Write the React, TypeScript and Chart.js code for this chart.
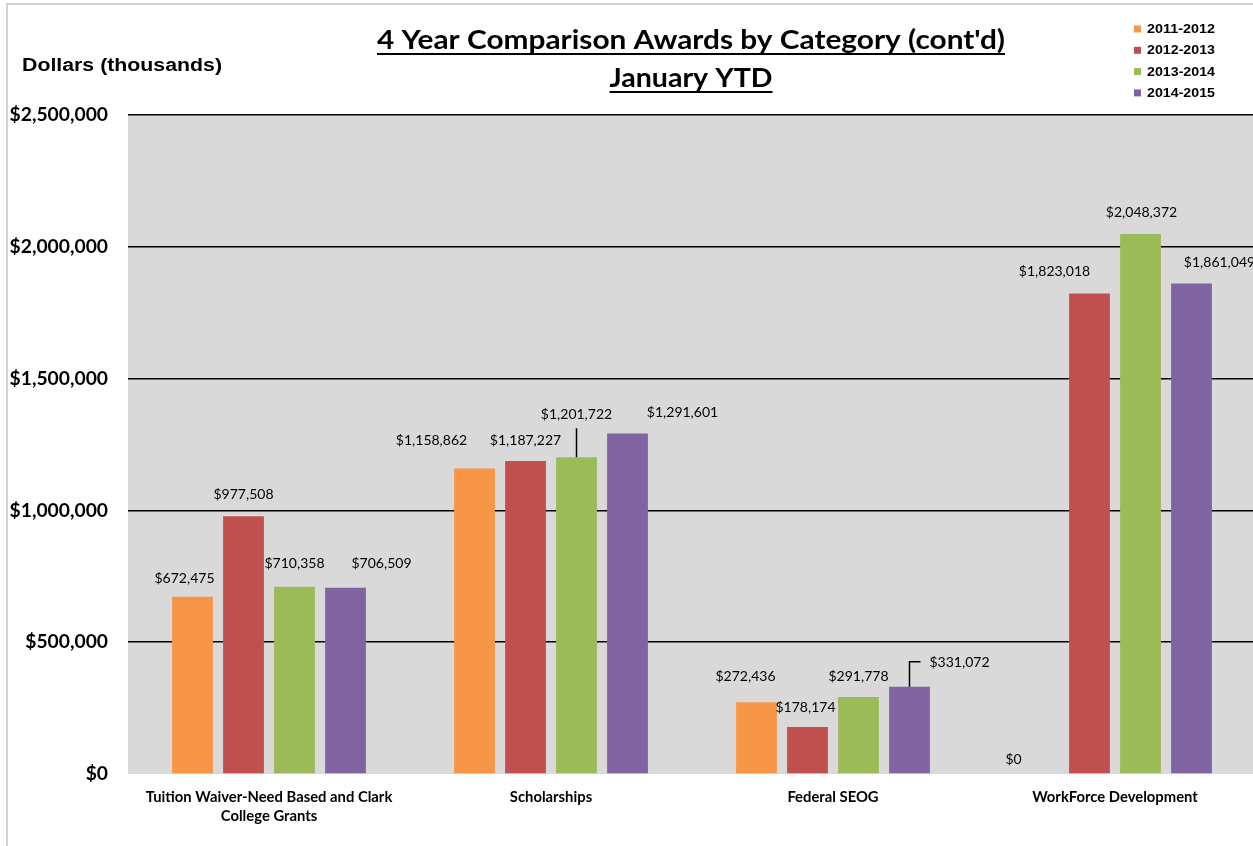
import React, { useEffect, useRef } from "react";
import { Chart, registerables } from "chart.js";

Chart.register(...registerables);

const categories: (string | string[])[] = [
  ["Tuition Waiver-Need Based and Clark", "College Grants"],
  "Scholarships",
  "Federal SEOG",
  "WorkForce Development",
];
const seriesNames = ["2011-2012", "2012-2013", "2013-2014", "2014-2015"];
const values2011 = [672475, 1158862, 272436, 0];
const values2012 = [977508, 1187227, 178174, 1823018];
const values2013 = [710358, 1201722, 291778, 2048372];
const values2014 = [706509, 1291601, 331072, 1861049];
const yTicks = [0, 500000, 1000000, 1500000, 2000000, 2500000];
const titleLines = ["4 Year Comparison Awards by Category (cont'd)", "January YTD"];
const yAxisTitle = "Dollars (thousands)";

const colors = ["#F79646", "#C0504D", "#9BBB59", "#8064A2"];

// label offsets relative to bar top-centre (style only)
const labelDx = [
  [-8, -43, -11, -25],
  [0, 0, -2, -35],
  [0, 0, 0, 1],
  [36, 55, 50, 28],
];
const labelDy = [
  [-18, -28, -26, -15],
  [-22, -21, -20, -22],
  [-23, -43, -21, -22],
  [-24, -21, -24, -21],
];
// leader line kind: 0 none, 1 vertical, 2 elbow
const leaderKind = [
  [0, 0, 0, 0],
  [0, 0, 0, 0],
  [0, 1, 0, 0],
  [0, 0, 2, 0],
];

const fmt = (v: number) => "$" + v.toLocaleString("en-US");

function drawFitted(ctx: any, text: string, cx: number, y: number, targetW: number, align: string) {
  const w = ctx.measureText(text).width;
  const s = targetW / w;
  ctx.save();
  ctx.textAlign = "left";
  const left = align === "center" ? cx - targetW / 2 : cx;
  ctx.translate(left, y);
  ctx.scale(s, 1);
  ctx.fillText(text, 0, 0);
  ctx.restore();
}

const decorPlugin = {
  id: "decor",
  beforeDraw(chart: any) {
    const { ctx, chartArea } = chart;
    ctx.save();
    ctx.fillStyle = "#ffffff";
    ctx.fillRect(0, 0, chart.width, chart.height);
    ctx.strokeStyle = "#d4d4d4";
    ctx.lineWidth = 2;
    ctx.beginPath();
    ctx.moveTo(7, chart.height);
    ctx.lineTo(7, 4);
    ctx.lineTo(chart.width, 4);
    ctx.stroke();
    ctx.fillStyle = "#D9D9D9";
    ctx.fillRect(chartArea.left, chartArea.top, chartArea.right - chartArea.left, chartArea.bottom - chartArea.top);
    ctx.restore();
  },
  afterDraw(chart: any) {
    const { ctx } = chart;
    ctx.save();
    ctx.fillStyle = "#000";
    ctx.textBaseline = "middle";
    ctx.font = "bold 27px Lato";
    const cx = 691;
    const ys = [40, 78];
    const widths = [628, 163];
    titleLines.forEach((t, i) => {
      drawFitted(ctx, t, cx, ys[i], widths[i], "center");
      ctx.fillRect(cx - widths[i] / 2, ys[i] + 13, widths[i], 2);
    });
    ctx.font = "bold 17.5px 'Liberation Sans'";
    drawFitted(ctx, yAxisTitle, 22, 66, 200, "left");
    ctx.font = "bold 13px 'Liberation Sans'";
    seriesNames.forEach((n, i) => {
      const y = 29 + i * 21.3;
      ctx.fillStyle = colors[i];
      ctx.fillRect(1134, y - 3.5, 7, 7);
      ctx.fillStyle = "#000";
      drawFitted(ctx, n, 1147, y + 0.5, 68, "left");
    });
    ctx.restore();
  },
  afterDatasetsDraw(chart: any) {
    const { ctx } = chart;
    ctx.save();
    ctx.font = "14px Lato";
    ctx.fillStyle = "#000";
    ctx.textAlign = "center";
    ctx.textBaseline = "middle";
    chart.data.datasets.forEach((ds: any, i: number) => {
      const meta = chart.getDatasetMeta(i);
      meta.data.forEach((bar: any, j: number) => {
        const v = ds.data[j] as number;
        const lx = bar.x + labelDx[i][j];
        const ly = bar.y + labelDy[i][j];
        const text = fmt(v);
        ctx.fillText(text, lx, ly);
        const w = ctx.measureText(text).width;
        ctx.strokeStyle = "#000";
        ctx.lineWidth = 1.5;
        if (leaderKind[i][j] === 1) {
          ctx.beginPath();
          ctx.moveTo(bar.x, bar.y);
          ctx.lineTo(bar.x, ly + 14);
          ctx.stroke();
        } else if (leaderKind[i][j] === 2) {
          ctx.beginPath();
          ctx.moveTo(bar.x, bar.y);
          ctx.lineTo(bar.x, ly - 1);
          ctx.lineTo(lx - w / 2 - 9, ly - 1);
          ctx.stroke();
        }
      });
    });
    ctx.restore();
  },
};

export default function App() {
  const ref = useRef<HTMLCanvasElement | null>(null);
  useEffect(() => {
    if (!ref.current) return;
    const chart = new Chart(ref.current, {
      type: "bar",
      data: {
        labels: categories,
        datasets: [values2011, values2012, values2013, values2014].map((d, i) => ({
          label: seriesNames[i],
          data: d,
          backgroundColor: colors[i],
          borderWidth: 0,
          categoryPercentage: 0.7234,
          barPercentage: 0.8,
        })),
      },
      options: {
        responsive: false,
        animation: false,
        devicePixelRatio: 1,
        layout: { padding: { top: 115, right: 0, bottom: 0, left: 0 } },
        plugins: {
          legend: { display: false },
          title: { display: false },
          tooltip: { enabled: false },
        },
        scales: {
          x: {
            grid: { display: false },
            border: { display: false },
            ticks: {
              color: "#000",
              font: { family: "Lato", weight: "bold", size: 14.8, lineHeight: 1.28 },
              padding: 6,
              maxRotation: 0,
              minRotation: 0,
            },
            afterFit(scale: any) {
              scale.height = 72;
            },
          },
          y: {
            min: 0,
            max: 2500000,
            afterBuildTicks(scale: any) {
              scale.ticks = yTicks.map((v) => ({ value: v }));
            },
            grid: {
              drawTicks: false,
              color: (c: any) => (c.tick && c.tick.value === 0 ? "rgba(0,0,0,0)" : "#000"),
              lineWidth: 1.6,
            },
            border: { display: false },
            ticks: {
              color: "#000",
              font: { family: "Lato", weight: "bold", size: 19.3 },
              padding: 20,
              callback: (v: any) => fmt(Number(v)),
            },
            afterFit(scale: any) {
              scale.width = 128;
            },
          },
        },
      },
      plugins: [decorPlugin],
    });
    return () => chart.destroy();
  }, []);
  return (
    <div style={{ position: "absolute", left: 0, top: 0, width: 1253, height: 846, overflow: "hidden" }}>
      <canvas ref={ref} width={1256} height={846} style={{ display: "block" }} />
    </div>
  );
}
